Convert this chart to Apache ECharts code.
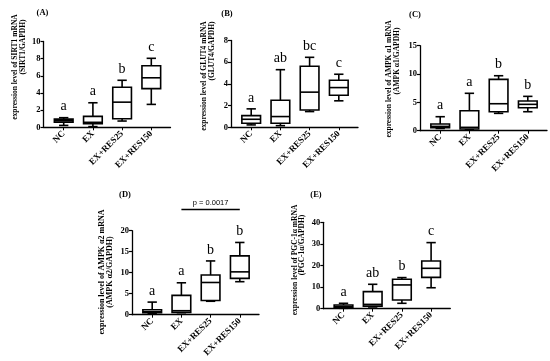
<!DOCTYPE html>
<html><head><meta charset="utf-8">
<script src="https://cdn.jsdelivr.net/npm/echarts@6/dist/echarts.min.js"></script>
<style>html,body{margin:0;padding:0;background:#fff}#c{width:550px;height:361px}</style>
</head><body><div id="c"></div>
<script>
// Categories
const categories = ['NC', 'EX', 'EX+RES25', 'EX+RES150'];
// Each box: [min, Q1, median, Q3, max]
const sirt1 = [[0.22, 0.6, 0.77, 0.95, 1.12], [0.08, 0.42, 0.58, 1.27, 2.86], [0.73, 1.0, 2.93, 4.67, 5.48], [2.67, 4.51, 5.77, 7.18, 8.04]];
const sirt1Letters = ['a', 'a', 'b', 'c'];
const glut4 = [[0.22, 0.37, 0.74, 1.08, 1.70], [0.15, 0.37, 0.99, 2.5, 5.31], [1.45, 1.6, 3.24, 5.62, 6.45], [2.44, 2.96, 3.66, 4.34, 4.89]];
const glut4Letters = ['a', 'ab', 'bc', 'c'];
const ampka1 = [[0.4, 0.53, 0.76, 1.18, 2.47], [0.2, 0.3, 0.59, 3.53, 6.6], [3.06, 3.35, 4.76, 9.06, 9.7], [3.35, 4.06, 4.65, 5.24, 6.06]];
const ampka1Letters = ['a', 'a', 'b', 'b'];
const ampka2 = [[0.3, 0.48, 0.7, 1.19, 3.0], [0.48, 0.55, 0.95, 4.6, 7.6], [3.2, 3.38, 7.67, 9.45, 12.8], [7.86, 8.66, 10.2, 14.0, 17.2]];
const ampka2Letters = ['a', 'a', 'b', 'b'];
const pgc1a = [[0.2, 0.5, 1.0, 1.7, 2.5], [0.8, 1.2, 2.0, 7.9, 11.3], [2.5, 4.0, 11.0, 13.6, 14.4], [9.7, 14.5, 18.7, 22.1, 30.6]];
const pgc1aLetters = ['a', 'ab', 'b', 'c'];

const panelTitles = ['(A)', '(B)', '(C)', '(D)', '(E)'];
const yTitle1 = ['expression level of SIRT1 mRNA', 'expression level of GLUT4 mRNA', 'expression level of AMPK α1 mRNA', 'expression level of AMPK α2 mRNA', 'expression level of PGC-1α mRNA'];
const yTitle2 = ['(SIRT1/GAPDH)', '(GLUT4/GAPDH)', '(AMPK α1/GAPDH)', '(AMPK α2/GAPDH)', '(PGC-1α/GAPDH)'];
const yMax = [10, 8, 15, 20, 40];
const yStep = [2, 2, 5, 5, 10];
const pText = 'p = 0.0017';
const pFrom = 1, pTo = 3; // EX vs EX+RES150 in panel D

const panelData = [sirt1, glut4, ampka1, ampka2, pgc1a];
const panelLetters = [sirt1Letters, glut4Letters, ampka1Letters, ampka2Letters, pgc1aLetters];

// layout (pixels)
const L = [
  {x: 43.5, top: 41.5, bottom: 127.3, t: [42.5, 13], l1: [15, 67], l2: [23, 47], fs: 7.5},
  {x: 231, top: 40.5, bottom: 127.3, t: [227, 14], l1: [204, 76], l2: [212, 51], fs: 7.5},
  {x: 420, top: 45.7, bottom: 130.7, t: [415, 15], l1: [389, 79], l2: [397, 61], fs: 7.5},
  {x: 132, top: 230.7, bottom: 314.7, t: [125, 195], l1: [102, 272], l2: [110, 272], fs: 8},
  {x: 323.3, top: 222.3, bottom: 308.7, t: [316, 195], l1: [295, 260], l2: [302, 245], fs: 7.5}
];
const SERIF = '"Liberation Serif", "Times New Roman", serif';
const BLACK = '#000';

const grid = [], xAxis = [], yAxis = [], series = [], graphic = [];
L.forEach((p, i) => {
  const h = p.bottom - p.top;
  // main category grid
  grid.push({left: p.x + 5.6, top: p.top, width: 116.8, height: h, containLabel: false});
  // frame grid (axis lines)
  grid.push({left: p.x, top: p.top, width: 127, height: h, containLabel: false});
  xAxis.push({
    gridIndex: 2 * i, type: 'category', data: categories,
    axisLine: {show: false},
    axisTick: {show: true, alignWithLabel: true, length: 3, lineStyle: {color: BLACK, width: 1}},
    axisLabel: {rotate: 45, margin: 5, fontFamily: SERIF, fontWeight: 'bold', fontSize: 9, color: BLACK, interval: 0},
    splitLine: {show: false}
  });
  xAxis.push({
    gridIndex: 2 * i + 1, type: 'value', min: 0, max: 1,
    axisLine: {show: true, lineStyle: {color: BLACK, width: 1.3}},
    axisTick: {show: false}, axisLabel: {show: false}, splitLine: {show: false}
  });
  yAxis.push({gridIndex: 2 * i, type: 'value', min: 0, max: yMax[i], interval: yStep[i], show: false});
  yAxis.push({
    gridIndex: 2 * i + 1, type: 'value', min: 0, max: yMax[i], interval: yStep[i],
    axisLine: {show: true, lineStyle: {color: BLACK, width: 1.3}},
    axisTick: {show: true, length: 3, lineStyle: {color: BLACK, width: 1.2}},
    axisLabel: {margin: 3, fontFamily: SERIF, fontWeight: 'bold', fontSize: 8.5, color: BLACK},
    splitLine: {show: false}
  });
  const letters = panelLetters[i];
  series.push({
    type: 'custom', xAxisIndex: 2 * i, yAxisIndex: 2 * i, clip: false,
    data: panelData[i].map((b, k) => [k].concat(b)),
    encode: {x: 0, y: [1, 2, 3, 4, 5]},
    renderItem: function (params, api) {
      const c = api.value(0);
      const pMin = api.coord([c, api.value(1)]);
      const pQ1 = api.coord([c, api.value(2)]);
      const pMed = api.coord([c, api.value(3)]);
      const pQ3 = api.coord([c, api.value(4)]);
      const pMax = api.coord([c, api.value(5)]);
      const cx = pMed[0];
      const bw = api.size([1, 0])[0] * 0.64;
      const cw = bw * 0.5;
      const st = {stroke: BLACK, lineWidth: 1.6, fill: null};
      return {
        type: 'group', children: [
          {type: 'line', shape: {x1: cx, y1: pQ3[1], x2: cx, y2: pMax[1]}, style: st},
          {type: 'line', shape: {x1: cx, y1: pQ1[1], x2: cx, y2: pMin[1]}, style: st},
          {type: 'line', shape: {x1: cx - cw / 2, y1: pMax[1], x2: cx + cw / 2, y2: pMax[1]}, style: st},
          {type: 'line', shape: {x1: cx - cw / 2, y1: pMin[1], x2: cx + cw / 2, y2: pMin[1]}, style: st},
          {type: 'rect', shape: {x: cx - bw / 2, y: pQ3[1], width: bw, height: pQ1[1] - pQ3[1]}, style: {stroke: BLACK, lineWidth: 1.6, fill: '#fff'}},
          {type: 'line', shape: {x1: cx - bw / 2, y1: pMed[1], x2: cx + bw / 2, y2: pMed[1]}, style: st},
          {type: 'text', style: {text: letters[params.dataIndex], x: cx, y: pMax[1] - 11, align: 'center', verticalAlign: 'middle', font: '14px ' + SERIF, fill: BLACK}}
        ]
      };
    }
  });
  graphic.push({type: 'text', x: p.t[0], y: p.t[1], style: {text: panelTitles[i], align: 'center', verticalAlign: 'middle', font: 'bold 8.5px ' + SERIF, fill: BLACK}});
  graphic.push({type: 'text', x: p.l1[0], y: p.l1[1], rotation: Math.PI / 2, style: {text: yTitle1[i], align: 'center', verticalAlign: 'middle', font: 'bold ' + p.fs + 'px ' + SERIF, fill: BLACK}});
  graphic.push({type: 'text', x: p.l2[0], y: p.l2[1], rotation: Math.PI / 2, style: {text: yTitle2[i], align: 'center', verticalAlign: 'middle', font: 'bold ' + p.fs + 'px ' + SERIF, fill: BLACK}});
});

const chart = echarts.init(document.getElementById('c'), null, {renderer: 'canvas'});
chart.setOption({animation: false, backgroundColor: '#fff', grid, xAxis, yAxis, series, graphic});

// p-value bracket in panel D, x positions from the category axis
const xa = chart.convertToPixel({xAxisIndex: 6}, pFrom);
const xb = chart.convertToPixel({xAxisIndex: 6}, pTo);
graphic.push({type: 'line', shape: {x1: xa, y1: 209.5, x2: xb, y2: 209.5}, style: {stroke: BLACK, lineWidth: 1.3}});
graphic.push({type: 'text', x: (xa + xb) / 2, y: 202.8, style: {text: pText, align: 'center', verticalAlign: 'middle', font: '7.5px "Liberation Sans", Arial, sans-serif', fill: BLACK}});
chart.setOption({graphic});
</script></body></html>
